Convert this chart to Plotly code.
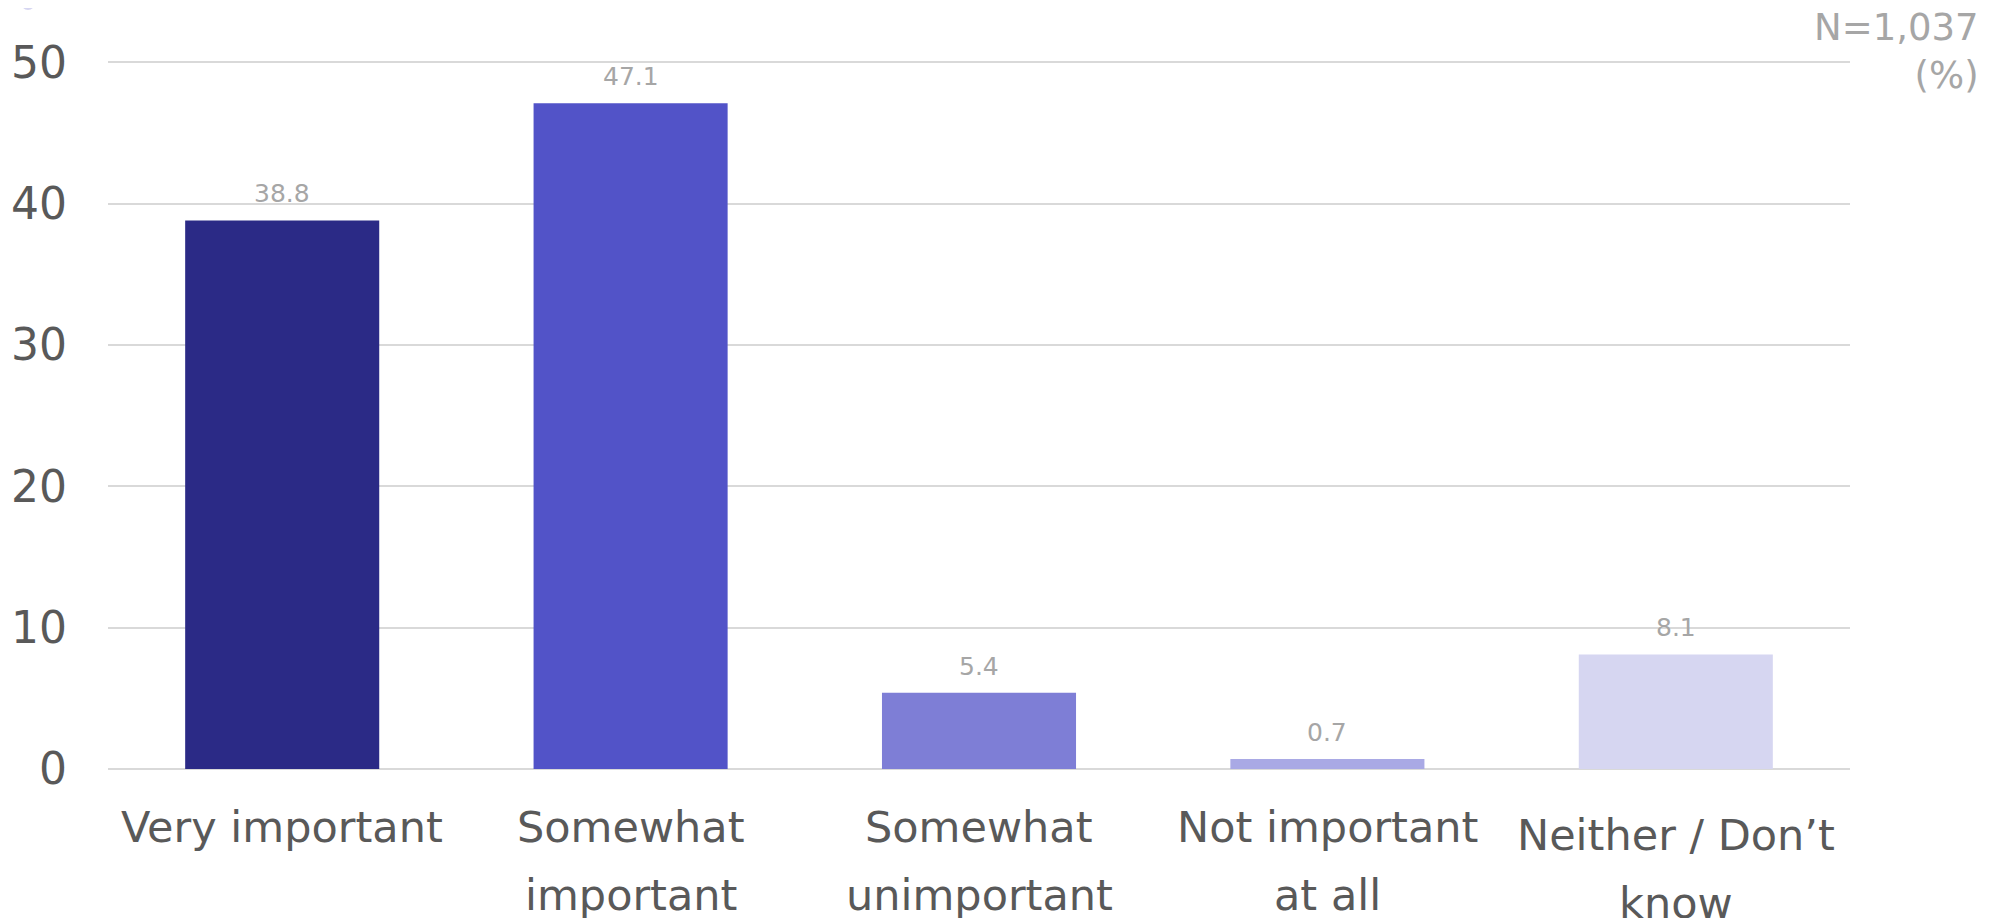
import plotly.graph_objects as go

categories = ["Very important", "Somewhat important", "Somewhat unimportant",
              "Not important at all", "Neither / Don’t know"]
label_lines = [["Very important"], ["Somewhat", "important"], ["Somewhat", "unimportant"],
               ["Not important", "at all"], ["Neither / Don’t", "know"]]
values = [38.8, 47.1, 5.4, 0.7, 8.1]
colors = ["#2B2A86", "#5253C8", "#7E7ED6", "#A9A9E5", "#D6D6F1"]
y_ticks = [0, 10, 20, 30, 40, 50]

# page body has an 8px margin; lay the figure out in window pixels
OFF = 8
W, H = 2002 - OFF, 918 - OFF
L, R, T, B = 108 - OFF, 152, 48 - OFF, 149
PH = H - T - B
FONT = "DejaVu Sans, Verdana, sans-serif"


def py(p):
    # p: window pixel y
    return (H - B - (p - OFF)) / PH


def px(p):
    # p: window pixel x
    return ((p - OFF) - L) / (W - L - R)


fig = go.Figure()
fig.add_trace(go.Bar(x=categories, y=values, marker=dict(color=colors, line=dict(width=0)),
                     hoverinfo="x+y"))

ann = []
for c, v in zip(categories, values):
    ann.append(dict(x=c, y=v, xref="x", yref="y", text=f"{v:.1f}", showarrow=False,
                    yanchor="bottom", yshift=10,
                    font=dict(family=FONT, size=25, color="#A6A6A6")))

base_offsets = [0, 0, 0, 0, 8]
for c, lines, off in zip(categories, label_lines, base_offsets):
    for i, line in enumerate(lines):
        baseline = 842 + off + i * 68
        ann.append(dict(x=c, y=py(baseline - 42), xref="x", yref="paper", text=line,
                        showarrow=False, yanchor="top", xanchor="center",
                        font=dict(family=FONT, size=43, color="#595959")))

ann.append(dict(x=px(1981), y=py(4), xref="paper", yref="paper", text="N=1,037<br>(%)",
                showarrow=False, xanchor="right", yanchor="top", align="right",
                font=dict(family=FONT, size=37, color="#A6A6A6")))

fig.update_layout(
    width=W, height=H,
    margin=dict(l=L, r=R, t=T, b=B, autoexpand=False),
    paper_bgcolor="white", plot_bgcolor="white",
    bargap=0.443,
    showlegend=False,
    annotations=ann,
    shapes=[dict(type="circle", xref="paper", yref="paper",
                 x0=px(21), x1=px(35), y0=py(10), y1=py(-4),
                 fillcolor="#D6D6F1", line=dict(width=0), layer="above")],
    xaxis=dict(showticklabels=False, showgrid=False, zeroline=False, showline=False,
               ticks=""),
    yaxis=dict(range=[0, 51], tickvals=y_ticks, showgrid=True, gridcolor="#D9D9D9",
               gridwidth=2, zeroline=True, zerolinecolor="#D9D9D9", zerolinewidth=2,
               showline=False, ticks="", ticklabelstandoff=40,
               tickfont=dict(family=FONT, size=44, color="#595959")),
)

fig.write_html("out.html")
